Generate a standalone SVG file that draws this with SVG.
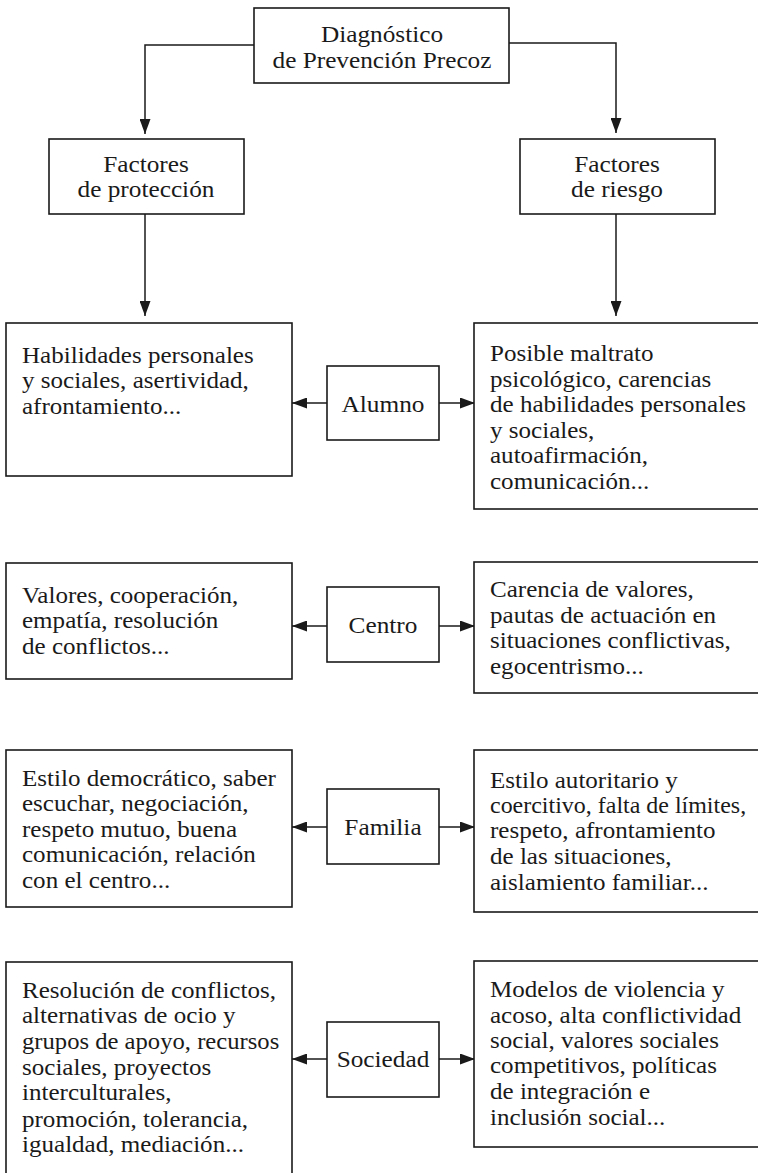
<svg xmlns="http://www.w3.org/2000/svg" width="758" height="1173" viewBox="0 0 758 1173">
<style>
rect{fill:#fff;stroke:#1a1a1a;stroke-width:1.6}
text{font-family:"Liberation Serif","Times New Roman",serif;font-size:23px;fill:#1a1a1a}
.c{text-anchor:middle}
.ln{fill:none;stroke:#1a1a1a;stroke-width:1.5}
</style>
<defs>
<marker id="ah" viewBox="0 0 15 11" refX="15" refY="5.5" markerWidth="15" markerHeight="11" markerUnits="userSpaceOnUse" orient="auto">
<path d="M0,0 L15,5.5 L0,11 Z" fill="#1a1a1a"/>
</marker>
</defs>
<g id="connectors">
<path class="ln" d="M254,45 H145 V134" marker-end="url(#ah)"/>
<path class="ln" d="M509,43 H616 V133" marker-end="url(#ah)"/>
<path class="ln" d="M145,214 V316" marker-end="url(#ah)"/>
<path class="ln" d="M616,214 V316" marker-end="url(#ah)"/>
<path class="ln" d="M327,403 H292" marker-end="url(#ah)"/>
<path class="ln" d="M439,403 H475" marker-end="url(#ah)"/>
<path class="ln" d="M327,626 H292" marker-end="url(#ah)"/>
<path class="ln" d="M439,626 H475" marker-end="url(#ah)"/>
<path class="ln" d="M327,827 H292" marker-end="url(#ah)"/>
<path class="ln" d="M439,827 H475" marker-end="url(#ah)"/>
<path class="ln" d="M327,1059 H292" marker-end="url(#ah)"/>
<path class="ln" d="M439,1059 H475" marker-end="url(#ah)"/>
</g>
<g id="diagnostico">
<rect x="254" y="8" width="255" height="75"/>
<g transform="matrix(1.1,0,0,1,-38.2,0)">
<text class="c" x="382" y="42">Diagnóstico</text>
<text class="c" x="382" y="68">de Prevención Precoz</text>
</g>
</g>
<g id="proteccion">
<rect x="49" y="139" width="195" height="75"/>
<g transform="matrix(1.1,0,0,1,-14.6,0)">
<text class="c" x="146" y="172">Factores</text>
<text class="c" x="146" y="197">de protección</text>
</g>
</g>
<g id="riesgo">
<rect x="520" y="139" width="195" height="75"/>
<g transform="matrix(1.1,0,0,1,-61.7,0)">
<text class="c" x="617" y="172">Factores</text>
<text class="c" x="617" y="197">de riesgo</text>
</g>
</g>
<g id="alumno-proteccion">
<rect x="6" y="323" width="286" height="153"/>
<g transform="matrix(1.09,0,0,1,-1.98,0)">
<text x="22" y="363">Habilidades personales</text>
<text x="22" y="388">y sociales, asertividad,</text>
<text x="22" y="414">afrontamiento...</text>
</g>
</g>
<g id="alumno">
<rect x="327" y="366" width="112" height="74"/>
<text class="c" x="383" y="412" transform="matrix(1.1,0,0,1,-38.3,0)">Alumno</text>
</g>
<g id="alumno-riesgo">
<rect x="474" y="323" width="290" height="186"/>
<g transform="matrix(1.09,0,0,1,-44.1,0)">
<text x="490" y="361">Posible maltrato</text>
<text x="490" y="387">psicológico, carencias</text>
<text x="490" y="412">de habilidades personales</text>
<text x="490" y="438">y sociales,</text>
<text x="490" y="463">autoafirmación,</text>
<text x="490" y="489">comunicación...</text>
</g>
</g>
<g id="centro-proteccion">
<rect x="6" y="563" width="286" height="116"/>
<g transform="matrix(1.09,0,0,1,-1.98,0)">
<text x="22" y="603">Valores, cooperación,</text>
<text x="22" y="628">empatía, resolución</text>
<text x="22" y="654">de conflictos...</text>
</g>
</g>
<g id="centro">
<rect x="327" y="587" width="112" height="75"/>
<text class="c" x="383" y="633" transform="matrix(1.1,0,0,1,-38.3,0)">Centro</text>
</g>
<g id="centro-riesgo">
<rect x="474" y="562" width="290" height="131"/>
<g transform="matrix(1.09,0,0,1,-44.1,0)">
<text x="490" y="597">Carencia de valores,</text>
<text x="490" y="623">pautas de actuación en</text>
<text x="490" y="648">situaciones conflictivas,</text>
<text x="490" y="674">egocentrismo...</text>
</g>
</g>
<g id="familia-proteccion">
<rect x="6" y="750" width="286" height="157"/>
<g transform="matrix(1.09,0,0,1,-1.98,0)">
<text x="22" y="786">Estilo democrático, saber</text>
<text x="22" y="811">escuchar, negociación,</text>
<text x="22" y="837">respeto mutuo, buena</text>
<text x="22" y="862">comunicación, relación</text>
<text x="22" y="888">con el centro...</text>
</g>
</g>
<g id="familia">
<rect x="327" y="789" width="112" height="75"/>
<text class="c" x="383" y="835" transform="matrix(1.1,0,0,1,-38.3,0)">Familia</text>
</g>
<g id="familia-riesgo">
<rect x="474" y="750" width="290" height="162"/>
<g transform="matrix(1.09,0,0,1,-44.1,0)">
<text x="490" y="788">Estilo autoritario y</text>
<text x="490" y="813" textLength="235" lengthAdjust="spacingAndGlyphs">coercitivo, falta de límites,</text>
<text x="490" y="838">respeto, afrontamiento</text>
<text x="490" y="864">de las situaciones,</text>
<text x="490" y="890">aislamiento familiar...</text>
</g>
</g>
<g id="sociedad-proteccion">
<rect x="6" y="962" width="286" height="220"/>
<g transform="matrix(1.09,0,0,1,-1.98,0)">
<text x="22" y="998">Resolución de conflictos,</text>
<text x="22" y="1023">alternativas de ocio y</text>
<text x="22" y="1049" textLength="236" lengthAdjust="spacingAndGlyphs">grupos de apoyo, recursos</text>
<text x="22" y="1075">sociales, proyectos</text>
<text x="22" y="1100">interculturales,</text>
<text x="22" y="1127">promoción, tolerancia,</text>
<text x="22" y="1152">igualdad, mediación...</text>
</g>
</g>
<g id="sociedad">
<rect x="327" y="1022" width="112" height="75"/>
<text class="c" x="383" y="1067" transform="matrix(1.1,0,0,1,-38.3,0)">Sociedad</text>
</g>
<g id="sociedad-riesgo">
<rect x="474" y="961" width="290" height="186"/>
<g transform="matrix(1.09,0,0,1,-44.1,0)">
<text x="490" y="997">Modelos de violencia y</text>
<text x="490" y="1023">acoso, alta conflictividad</text>
<text x="490" y="1048">social, valores sociales</text>
<text x="490" y="1073">competitivos, políticas</text>
<text x="490" y="1099">de integración e</text>
<text x="490" y="1125">inclusión social...</text>
</g>
</g>
</svg>
